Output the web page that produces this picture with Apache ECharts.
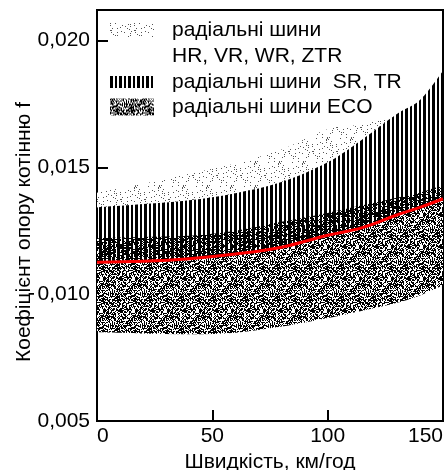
<!DOCTYPE html>
<html>
<head>
<meta charset="utf-8">
<script src="https://cdn.jsdelivr.net/npm/echarts@6/dist/echarts.min.js"></script>
<style>
  html, body { margin: 0; padding: 0; background: #fff; }
  #chart { width: 445px; height: 470px; }
</style>
</head>
<body>
<div id="chart"></div>
<script>
// speed, km/h
const speed = [0, 20, 40, 60, 80, 100, 115, 130, 140, 150]
// red mean curve
const fMean = [0.01126, 0.01130, 0.01140, 0.01158, 0.01185, 0.01232, 0.01262, 0.01312, 0.01342, 0.01376]
// ECO band
const ecoLow = [0.00850, 0.00845, 0.00842, 0.00848, 0.00872, 0.00906, 0.00935, 0.00966, 0.00995, 0.01035]
const ecoTop = [0.01220, 0.01225, 0.01230, 0.01250, 0.01285, 0.01320, 0.01350, 0.01380, 0.01400, 0.01430]
// SR, TR band (from red curve up)
const srTop = [0.01342, 0.01355, 0.01370, 0.01398, 0.01442, 0.01520, 0.01610, 0.01710, 0.01765, 0.01880]
// HR, VR, WR, ZTR band (above SR)
const hrTop = [0.01400, 0.01435, 0.01475, 0.01515, 0.01570, 0.01650, 0.01670, 0.01710, 0.01765, 0.01880]
const yTicks = [0.005, 0.010, 0.015, 0.020]

const nameHR = 'радіальні шини'
const nameSR = 'радіальні шини  SR, TR'
const nameECO = 'радіальні шини ECO'
const font = '"Liberation Sans", Arial, sans-serif'

function hash(x, y, s) {
  let h = (x * 374761393 + y * 668265263 + s * 1442695041) | 0
  h = Math.imul(h ^ (h >>> 13), 1274126177)
  h ^= h >>> 16
  return (h >>> 0) / 4294967296
}

function makePattern(w, h, draw) {
  const c = document.createElement('canvas')
  c.width = w
  c.height = h
  draw(c.getContext('2d'), w, h)
  return { image: c, repeat: 'repeat' }
}

// dense black/white noise
const ecoPat = makePattern(32, 32, (ctx, w, h) => {
  ctx.fillStyle = '#fff'
  ctx.fillRect(0, 0, w, h)
  ctx.fillStyle = '#000'
  for (let x = 0; x < w; x++) {
    for (let y = 0; y < h; y++) {
      if (hash(x, y, 1) < 0.55) ctx.fillRect(x, y, 1, 1)
    }
  }
})
// vertical hatch
const srPat = makePattern(9, 1, (ctx) => {
  ctx.fillStyle = '#000'
  ctx.fillRect(0, 0, 3, 1)
  ctx.fillRect(5, 0, 2, 1)
})
// sparse grey dots
const hrPat = makePattern(24, 24, (ctx, w, h) => {
  ctx.fillStyle = '#fff'
  ctx.fillRect(0, 0, w, h)
  ctx.fillStyle = '#555'
  for (let x = 0; x < w; x++) {
    for (let y = 0; y < h; y++) {
      if (hash(x, y, 7) < 0.08) ctx.fillRect(x, y, 1, 1)
    }
  }
})

// smooth path (catmull-rom -> cubic) through pixel points
function curve(pts, start) {
  let d = start ? 'M' + pts[0][0] + ',' + pts[0][1] : 'L' + pts[0][0] + ',' + pts[0][1]
  for (let i = 0; i < pts.length - 1; i++) {
    const p0 = pts[i - 1] || pts[i]
    const p1 = pts[i]
    const p2 = pts[i + 1]
    const p3 = pts[i + 2] || p2
    const c1 = [p1[0] + (p2[0] - p0[0]) / 6, p1[1] + (p2[1] - p0[1]) / 6]
    const c2 = [p2[0] - (p3[0] - p1[0]) / 6, p2[1] - (p3[1] - p1[1]) / 6]
    d += 'C' + c1.join(',') + ' ' + c2.join(',') + ' ' + p2.join(',')
  }
  return d
}

function band(name, lower, upper, pattern, z) {
  return {
    name: name,
    type: 'custom',
    coordinateSystem: 'cartesian2d',
    data: speed.map((s, i) => [s, lower[i], upper[i]]),
    encode: { x: 0, y: [1, 2] },
    itemStyle: { color: pattern },
    silent: true,
    z: z,
    renderItem: (params, api) => {
      if (params.dataIndex !== 0) return
      const up = speed.map((s, i) => api.coord([s, upper[i]]))
      const lo = speed.map((s, i) => api.coord([s, lower[i]])).reverse()
      return {
        type: 'path',
        shape: { pathData: curve(up, true) + curve(lo, false) + 'Z' },
        style: { fill: pattern, stroke: null }
      }
    }
  }
}

const legendCommon = {
  orient: 'vertical',
  left: 110,
  icon: 'rect',
  itemWidth: 44,
  padding: 0,
  selectedMode: false,
  textStyle: { fontSize: 21, color: '#000', fontFamily: font, lineHeight: 22, padding: [0, 0, 0, 13] }
}

const chart = echarts.init(document.getElementById('chart'))
chart.setOption({
  animation: false,
  backgroundColor: '#fff',
  grid: { left: 97, right: 2, top: 10, bottom: 49, outerBoundsMode: 'none', show: true, borderColor: '#000', borderWidth: 2, backgroundColor: 'transparent' },
  legend: [
    Object.assign({}, legendCommon, { top: 19, itemHeight: 14, data: [{ name: nameHR, itemStyle: { color: hrPat } }] }),
    Object.assign({}, legendCommon, { top: 71, itemHeight: 12, data: [{ name: nameSR, itemStyle: { color: srPat } }] }),
    Object.assign({}, legendCommon, { top: 96, itemHeight: 17, data: [{ name: nameECO, itemStyle: { color: ecoPat } }] })
  ],
  graphic: [{
    type: 'text', x: 172, y: 56,
    style: { text: 'HR, VR, WR, ZTR', fontSize: 21, fontFamily: font, fill: '#000', align: 'left', verticalAlign: 'middle' }
  }, {
    type: 'text', x: 24, y: 232, rotation: Math.PI / 2,
    style: { text: 'Коефіцієнт опору котінню f', fontSize: 21, fontFamily: font, fill: '#000', align: 'center', verticalAlign: 'middle' }
  }],
  xAxis: {
    type: 'value',
    min: 0,
    max: 150,
    interval: 50,
    name: 'Швидкість, км/год',
    nameLocation: 'middle',
    nameGap: 26,
    nameTextStyle: { fontSize: 21, color: '#000', fontFamily: font },
    axisLine: { lineStyle: { color: '#000', width: 2 } },
    axisTick: { inside: true, length: 11, lineStyle: { color: '#000', width: 2 } },
    axisLabel: { margin: 5, fontSize: 21, color: '#000', fontFamily: font, alignMinLabel: 'left', alignMaxLabel: 'right' },
    splitLine: { show: false }
  },
  yAxis: {
    type: 'value',
    min: 0.005,
    max: 0.0212,
    interval: 0.005,
    axisLine: { lineStyle: { color: '#000', width: 2 } },
    axisTick: { inside: true, length: 11, lineStyle: { color: '#000', width: 2 } },
    axisLabel: {
      margin: 7, fontSize: 21, color: '#000', fontFamily: font,
      showMaxLabel: false,
      formatter: (v) => {
        const t = yTicks.find(k => Math.abs(k - v) < 1e-9)
        return t === undefined ? '' : t.toFixed(3).replace('.', ',')
      }
    },
    splitLine: { show: false }
  },
  series: [
    band(nameHR, srTop, hrTop, hrPat, 1),
    band(nameECO, ecoLow, ecoTop, ecoPat, 2),
    band(nameSR, fMean, srTop, srPat, 3),
    {
      type: 'line',
      data: speed.map((s, i) => [s, fMean[i]]),
      smooth: 0.4,
      symbol: 'none',
      lineStyle: { color: '#ff0000', width: 3 },
      silent: true,
      z: 5
    }
  ]
})
</script>
</body>
</html>
